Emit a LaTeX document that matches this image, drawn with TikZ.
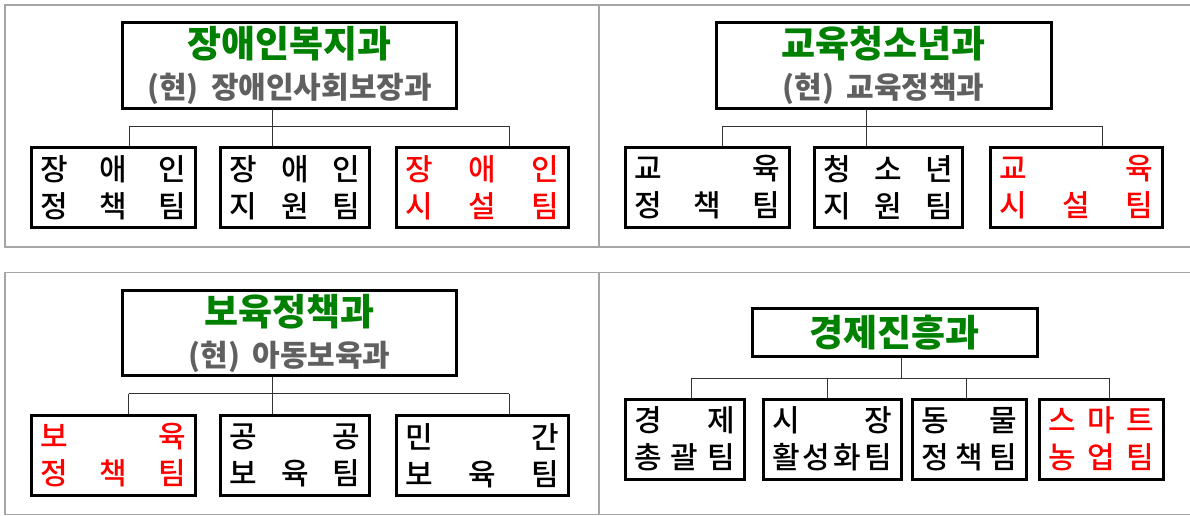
\documentclass[tikz,border=0pt]{standalone}
\usepackage{fontspec}
\setmainfont{Noto Sans CJK KR}
\newfontfamily\teamfont{Noto Sans CJK KR Medium}
\definecolor{hgreen}{RGB}{0,128,0}
\definecolor{hgray}{RGB}{96,96,96}
\definecolor{hred}{RGB}{255,0,0}
\begin{document}
\begin{tikzpicture}[x=1pt, y=-1pt,
  head/.style = {draw, line width=3pt, align=center, inner xsep=6pt, text=hgreen, font=\fontsize{37}{41}\selectfont\bfseries},
  team/.style = {draw, line width=3pt, align=left, inner xsep=9pt, minimum height=80pt, font=\teamfont\fontsize{30}{37}\selectfont},
  wire/.style = {draw=black!80, line width=1pt},
  frame/.style = {draw=black!35, line width=1.5pt}]
\useasboundingbox (0,0) rectangle (1190,516);
\draw[frame] (5,5) rectangle (1200,247);
\draw[frame] (599,5) -- (599,247);
\draw[frame] (5,272.7) rectangle (1200,514.3);
\draw[frame] (599,272.7) -- (599,514.3);

\node[head, text width=322pt, minimum height=80pt] (h1) at (289.5,65.5) {장애인복지과\\{\color{hgray}\fontsize{30}{41}\selectfont (현) 장애인사회보장과}};
\node[team, text width=146pt] (t11) at (113.5,187.5) {장\hfill 애\hfill 인\\정\hfill 책\hfill 팀};
\node[team, text width=131pt] (t12) at (295,187.5) {장\hfill 애\hfill 인\\지\hfill 원\hfill 팀};
\node[team, text width=154pt, text=hred] (t13) at (482.5,187.5) {장\hfill 애\hfill 인\\시\hfill 설\hfill 팀};
\coordinate (b11) at (129,126);
\coordinate (b12) at (272.7,126);
\coordinate (b13) at (509,126);
\draw[wire] (b12 |- h1.south) -- (b12);
\draw[wire] (b11) -- (b13);
\draw[wire] (b11) -- (b11 |- t11.north);
\draw[wire] (b12) -- (b12 |- t12.north);
\draw[wire] (b13) -- (b13 |- t13.north);

\node[head, text width=323pt, minimum height=80pt] (h2) at (883.5,65.5) {교육청소년과\\{\color{hgray}\fontsize{30}{41}\selectfont (현) 교육정책과}};
\node[team, text width=146pt] (t21) at (707.5,187.5) {교\hfill 육\\정\hfill 책\hfill 팀};
\node[team, text width=130pt] (t22) at (888.5,187.5) {청\hfill 소\hfill 년\\지\hfill 원\hfill 팀};
\node[team, text width=154pt, text=hred] (t23) at (1076.5,187.5) {교\hfill 육\\시\hfill 설\hfill 팀};
\coordinate (b21) at (722,126);
\coordinate (b22) at (866,126);
\coordinate (b23) at (1102,126);
\draw[wire] (b22 |- h2.south) -- (b22);
\draw[wire] (b21) -- (b23);
\draw[wire] (b21) -- (b21 |- t21.north);
\draw[wire] (b22) -- (b22 |- t22.north);
\draw[wire] (b23) -- (b23 |- t23.north);

\node[head, text width=322pt, minimum height=80pt] (h3) at (289.5,333.3) {보육정책과\\{\color{hgray}\fontsize{30}{41}\selectfont (현) 아동보육과}};
\node[team, text width=146pt, text=hred] (t31) at (113.5,455.3) {보\hfill 육\\정\hfill 책\hfill 팀};
\node[team, text width=131pt] (t32) at (295,455.3) {공\hfill 공\\보\hfill 육\hfill 팀};
\node[team, text width=154pt] (t33) at (482.5,455.3) {민\hfill 간\\보\hfill 육\hfill 팀};
\coordinate (b31) at (128.7,393.7);
\coordinate (b32) at (272.3,393.7);
\coordinate (b33) at (509,393.7);
\draw[wire] (b32 |- h3.south) -- (b32);
\draw[wire] (b31) -- (b33);
\draw[wire] (b31) -- (b31 |- t31.north);
\draw[wire] (b32) -- (b32 |- t32.north);
\draw[wire] (b33) -- (b33 |- t33.north);

\node[head, text width=273pt, minimum height=48pt] (h4) at (894.7,332.3) {경제진흥과};
\node[team, text width=101pt] (t41) at (684.7,439) {경\hfill 제\\총\hfill 괄\hfill 팀};
\node[team, text width=120pt] (t42) at (832,439) {시\hfill 장\\활\hfill 성\hfill 화\hfill 팀};
\node[team, text width=96pt] (t43) at (969.2,439) {동\hfill 물\\정\hfill 책\hfill 팀};
\node[team, text width=106pt, text=hred] (t44) at (1101,439) {스\hfill 마\hfill 트\\농\hfill 업\hfill 팀};
\coordinate (b41) at (691.7,378);
\coordinate (b42) at (827.3,378);
\coordinate (b4) at (901.3,378);
\coordinate (b43) at (966.7,378);
\coordinate (b44) at (1109,378);
\draw[wire] (b4 |- h4.south) -- (b4);
\draw[wire] (b41) -- (b44);
\draw[wire] (b41) -- (b41 |- t41.north);
\draw[wire] (b42) -- (b42 |- t42.north);
\draw[wire] (b43) -- (b43 |- t43.north);
\draw[wire] (b44) -- (b44 |- t44.north);
\end{tikzpicture}
\end{document}
